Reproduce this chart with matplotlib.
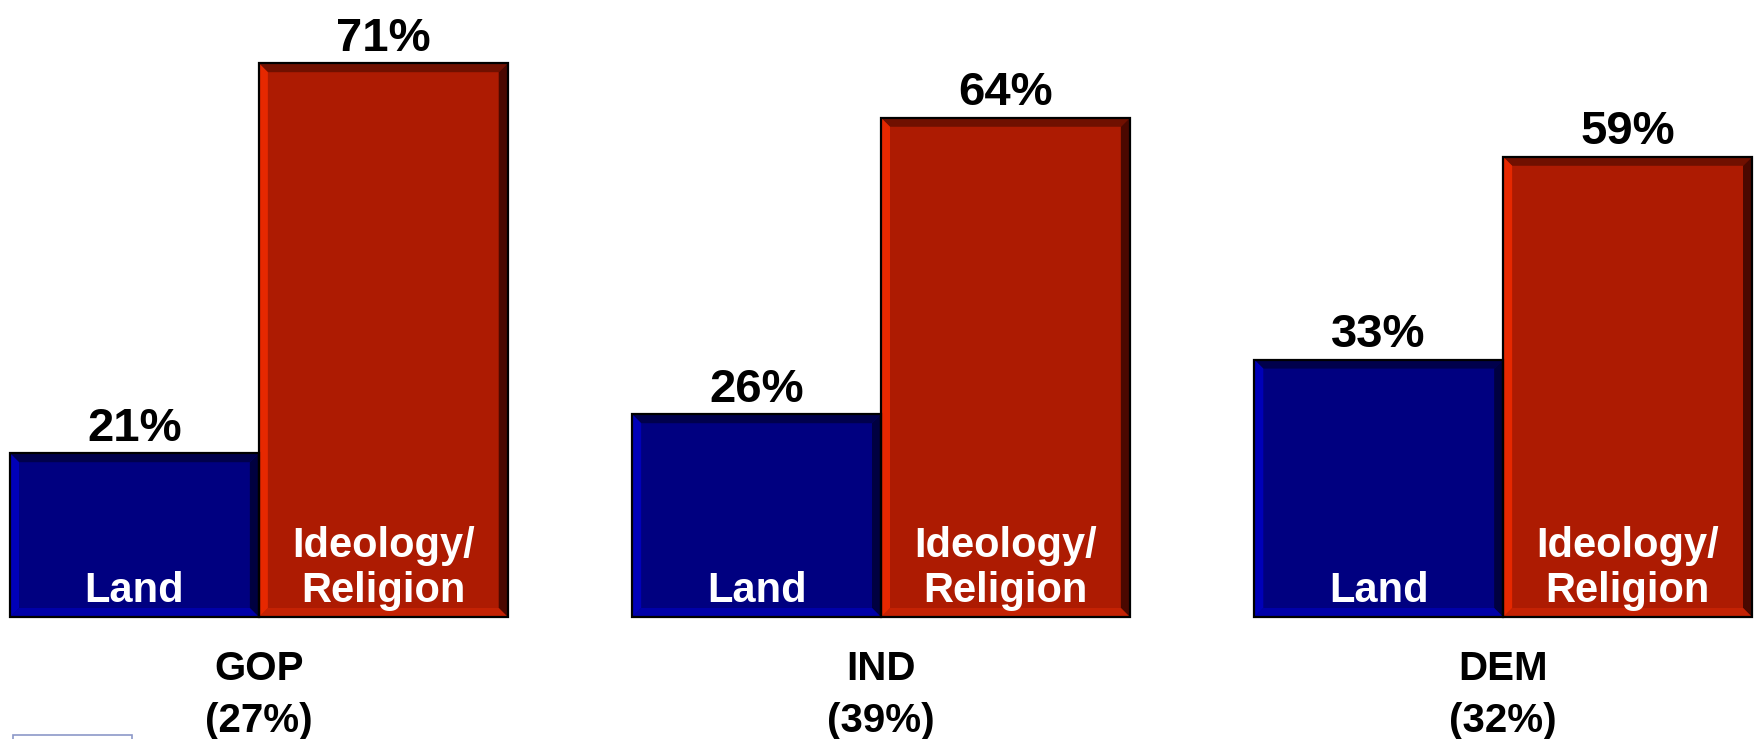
import numpy as np
import matplotlib
matplotlib.use('Agg')
import matplotlib.pyplot as plt
from matplotlib.patches import Polygon, Rectangle

# data
groups = ['GOP\n(27%)', 'IND\n(39%)', 'DEM\n(32%)']
land = [21, 26, 33]
ideology = [71, 64, 59]
series_names = ['Land', 'Ideology/\nReligion']

plt.rcParams['font.family'] = ['Liberation Sans', 'DejaVu Sans']

W, H = 1755, 739
fig = plt.figure(figsize=(W / 100, H / 100), dpi=100)
ax = fig.add_axes([10 / W, 122 / H, 1742 / W, 617 / H])
ax.set_xlim(-0.4, 2.4)
ax.set_ylim(0, 79.1)
ax.axis('off')

x = np.arange(len(groups))
bw = 0.4

# data units per pixel, for the bevel strips
px_x = 2.8 / 1742
px_y = 79.1 / 617
bev = 9


def add_bevel(rect, top, right, bottom, left):
    x0, y0 = rect.get_x(), rect.get_y()
    x1, y1 = x0 + rect.get_width(), y0 + rect.get_height()
    dx, dy = bev * px_x, bev * px_y
    strips = [
        ([(x0, y1), (x1, y1), (x1 - dx, y1 - dy), (x0 + dx, y1 - dy)], top),
        ([(x1, y1), (x1, y0), (x1 - dx, y0 + dy), (x1 - dx, y1 - dy)], right),
        ([(x0, y0), (x1, y0), (x1 - dx, y0 + dy), (x0 + dx, y0 + dy)], bottom),
        ([(x0, y0), (x0, y1), (x0 + dx, y1 - dy), (x0 + dx, y0 + dy)], left),
    ]
    for pts, c in strips:
        ax.add_patch(Polygon(pts, closed=True, facecolor=c, edgecolor='none',
                             zorder=2, clip_on=False))


blue_bars = ax.bar(x - bw / 2, land, bw, color='#000080', zorder=1, clip_on=False)
red_bars = ax.bar(x + bw / 2, ideology, bw, color='#AD1B02', zorder=1, clip_on=False)

for b in blue_bars:
    add_bevel(b, '#00004C', '#000040', '#0000A8', '#0000B8')
for b in red_bars:
    add_bevel(b, '#701000', '#4A0800', '#C42204', '#E62800')

# outlines
ax.bar(x - bw / 2, land, bw, fill=False, edgecolor='black', linewidth=1.6,
       zorder=3, clip_on=False)
ax.bar(x + bw / 2, ideology, bw, fill=False, edgecolor='black', linewidth=1.6,
       zorder=3, clip_on=False)

# value labels
for bars, vals in [(blue_bars, land), (red_bars, ideology)]:
    for b, v in zip(bars, vals):
        ax.annotate(f'{v}%', (b.get_x() + b.get_width() / 2, v),
                    xytext=(0, 9), textcoords='offset points',
                    ha='center', va='baseline', fontsize=34,
                    fontweight='bold', color='black', annotation_clip=False)

# labels inside bars
for bars, name in [(blue_bars, series_names[0]), (red_bars, series_names[1])]:
    for b in bars:
        ax.annotate(name, (b.get_x() + b.get_width() / 2, 0),
                    xytext=(0, 4), textcoords='offset points',
                    ha='center', va='bottom', fontsize=30,
                    fontweight='bold', color='white', linespacing=1.18,
                    zorder=4, annotation_clip=False)

# group labels under the bars
for xi, g in zip(x, groups):
    ax.annotate(g, (xi, 0), xytext=(0, -83), textcoords='offset points',
                ha='center', va='baseline', fontsize=29, fontweight='bold',
                color='black', linespacing=1.46, annotation_clip=False)

# small box at bottom left edge
fig.patches.append(Rectangle((13 / W, -2 / H), 119 / W, 6 / H,
                             transform=fig.transFigure, fill=False,
                             edgecolor='#8C98C8', linewidth=1.2))

fig.savefig('out.png', dpi=100)
